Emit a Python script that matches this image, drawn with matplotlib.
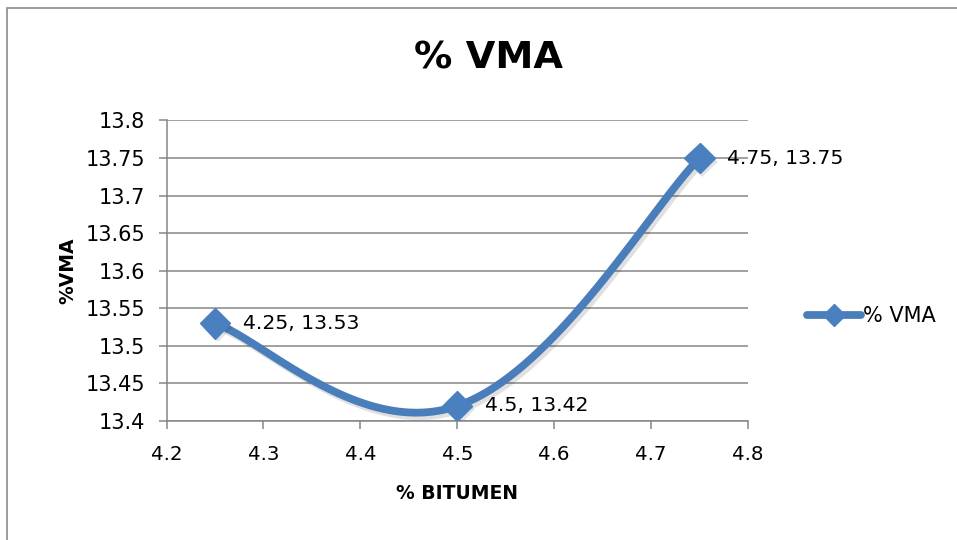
import numpy as np
import matplotlib
matplotlib.use("Agg")
import matplotlib.pyplot as plt
import matplotlib.patheffects as pe
from matplotlib.patches import Rectangle
from matplotlib.lines import Line2D

# Data
bitumen = [4.25, 4.5, 4.75]
vma = [13.53, 13.42, 13.75]
series_name = "% VMA"
x_ticks = [4.2, 4.3, 4.4, 4.5, 4.6, 4.7, 4.8]
y_ticks = [13.4, 13.45, 13.5, 13.55, 13.6, 13.65, 13.7, 13.75, 13.8]
y_tick_labels = ["13.4", "13.45", "13.5", "13.55", "13.6", "13.65", "13.7", "13.75", "13.8"]

plt.rcParams['font.family'] = ['DejaVu Sans']

LINE = "#4a7ebb"
MARK = "#4a7fc0"
GRID = "#868686"


def smooth_curve(xs, ys, k=0.2, n=60):
    """Piecewise cubic Bezier through the points (spreadsheet-style smoothing)."""
    pts = np.column_stack([xs, ys]).astype(float)
    m = len(pts)
    out = []
    for i in range(m - 1):
        p0 = pts[max(i - 1, 0)]
        p1 = pts[i]
        p2 = pts[i + 1]
        p3 = pts[min(i + 2, m - 1)]
        c1 = p1 + k * (p2 - p0)
        c2 = p2 - k * (p3 - p1)
        t = np.linspace(0, 1, n)[:, None]
        seg = ((1 - t) ** 3) * p1 + 3 * ((1 - t) ** 2) * t * c1 + 3 * (1 - t) * t ** 2 * c2 + t ** 3 * p2
        out.append(seg if i == 0 else seg[1:])
    c = np.vstack(out)
    return c[:, 0], c[:, 1]


fig = plt.figure(figsize=(9.57, 5.4), dpi=100)
ax = fig.add_axes([0.174, 0.2204, 0.6076, 0.5565])

# chart frame
fig.patches.append(Rectangle((7 / 957, -0.1), 1.2, 1 - 8 / 540 + 0.1, transform=fig.transFigure,
                             fill=False, edgecolor="#8c8c8c", linewidth=1.2))

sx, sy = smooth_curve(bitumen, vma)
shadow = [pe.SimpleLineShadow(offset=(2, -2.5), shadow_color="#000000", alpha=0.12), pe.Normal()]
ax.plot(sx, sy, color=LINE, linewidth=5.6, solid_capstyle="round", path_effects=shadow, zorder=3)
ax.plot(bitumen, vma, linestyle="none", marker="D", markersize=15.5, color=MARK,
        markeredgecolor=MARK, zorder=4,
        path_effects=[pe.SimplePatchShadow(offset=(2, -2.5), alpha=0.12), pe.Normal()])

for x, y in zip(bitumen, vma):
    ax.annotate(f"{x:g}, {y:g}", (x, y), xytext=(20, 0), textcoords="offset points",
                ha="left", va="center", fontsize=14.7, color="#000000", zorder=5)

ax.set_xlim(4.2, 4.8)
ax.set_ylim(13.4, 13.8)
ax.set_xticks(x_ticks)
ax.set_xticklabels([f"{v:g}" for v in x_ticks])
ax.set_yticks(y_ticks)
ax.set_yticklabels(y_tick_labels)
ax.grid(axis="y", color=GRID, linewidth=1.1)
ax.set_axisbelow(True)
for s in ["top", "right"]:
    ax.spines[s].set_visible(False)
for s in ["left", "bottom"]:
    ax.spines[s].set_color(GRID)
    ax.spines[s].set_linewidth(1.1)
ax.tick_params(axis="both", colors=GRID, length=5.5, width=1.1, labelcolor="#000000")
ax.tick_params(axis="y", pad=10, labelsize=15)
ax.tick_params(axis="x", pad=12, labelsize=14.2)

ax.set_xlabel("% BITUMEN", fontsize=13.5, fontweight="bold", labelpad=14)
ax.set_ylabel("%VMA", fontsize=13.5, fontweight="bold", labelpad=6)

fig.text(0.51, 0.892, "% VMA", ha="center", va="center", fontsize=27.5, fontweight="bold")

handle = Line2D([], [], color=LINE, linewidth=5.6, marker="D", markersize=11,
                markerfacecolor=MARK, markeredgecolor=MARK, solid_capstyle="round")
fig.legend([handle], [series_name], loc="center left", bbox_to_anchor=(0.832, 0.415),
           frameon=False, fontsize=15, handlelength=2.6, handletextpad=0.1,
           borderpad=0)

fig.savefig("out.png", dpi=100)
